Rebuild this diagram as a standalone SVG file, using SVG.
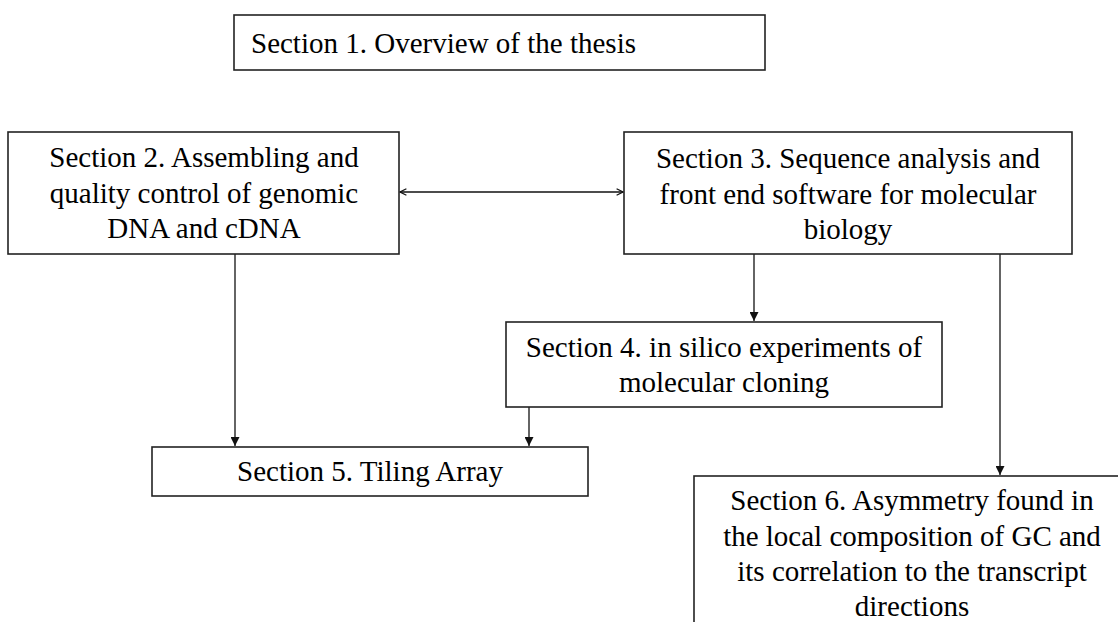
<svg xmlns="http://www.w3.org/2000/svg" width="1118" height="622" viewBox="0 0 1118 622">
<style>
.box{fill:#ffffff;stroke:#222222;stroke-width:1.6}
.t{font-family:"Liberation Serif","Times New Roman",serif;font-size:29px;fill:#000000}
.c{text-anchor:middle}
.ln{stroke:#111111;stroke-width:1.3;fill:none}
</style>
<defs>
<marker id="tri" viewBox="0 0 10 10" refX="10" refY="5" markerWidth="9" markerHeight="9" markerUnits="userSpaceOnUse" orient="auto">
<path d="M0,0 L10,5 L0,10 z" fill="#111111"/>
</marker>
<marker id="chev" viewBox="0 0 10 10" refX="9" refY="5" markerWidth="8" markerHeight="8" markerUnits="userSpaceOnUse" orient="auto-start-reverse">
<path d="M1,1 L9,5 L1,9" fill="none" stroke="#111111" stroke-width="1.6"/>
</marker>
</defs>
<rect width="1118" height="622" fill="#ffffff"/>
<g id="connectors">
<line class="ln" x1="400" y1="192" x2="623" y2="192" marker-start="url(#chev)" marker-end="url(#chev)"/>
<line class="ln" x1="235" y1="254" x2="235" y2="446" marker-end="url(#tri)"/>
<line class="ln" x1="754" y1="254" x2="754" y2="321" marker-end="url(#tri)"/>
<line class="ln" x1="529" y1="407" x2="529" y2="446" marker-end="url(#tri)"/>
<line class="ln" x1="1000" y1="254" x2="1000" y2="475" marker-end="url(#tri)"/>
</g>
<g id="node1">
<rect class="box" x="234" y="15" width="531" height="55"/>
<text class="t" x="251" y="53">Section 1. Overview of the thesis</text>
</g>
<g id="node2">
<rect class="box" x="8" y="132" width="391" height="122"/>
<text class="t c" x="204" y="167">Section 2. Assembling and</text>
<text class="t c" x="204" y="203">quality control of genomic</text>
<text class="t c" x="204" y="238">DNA and cDNA</text>
</g>
<g id="node3">
<rect class="box" x="624" y="132" width="448" height="122"/>
<text class="t c" x="848" y="168">Section 3. Sequence analysis and</text>
<text class="t c" x="848" y="204">front end software for molecular</text>
<text class="t c" x="848" y="239">biology</text>
</g>
<g id="node4">
<rect class="box" x="506" y="322" width="436" height="85"/>
<text class="t c" x="724" y="357">Section 4. in silico experiments of</text>
<text class="t c" x="724" y="392">molecular cloning</text>
</g>
<g id="node5">
<rect class="box" x="152" y="447" width="436" height="49"/>
<text class="t c" x="370" y="481">Section 5. Tiling Array</text>
</g>
<g id="node6">
<rect class="box" x="694" y="476" width="440" height="160"/>
<text class="t c" x="912" y="510">Section 6. Asymmetry found in</text>
<text class="t c" x="912" y="546">the local composition of GC and</text>
<text class="t c" x="912" y="581">its correlation to the transcript</text>
<text class="t c" x="912" y="616">directions</text>
</g>
</svg>
